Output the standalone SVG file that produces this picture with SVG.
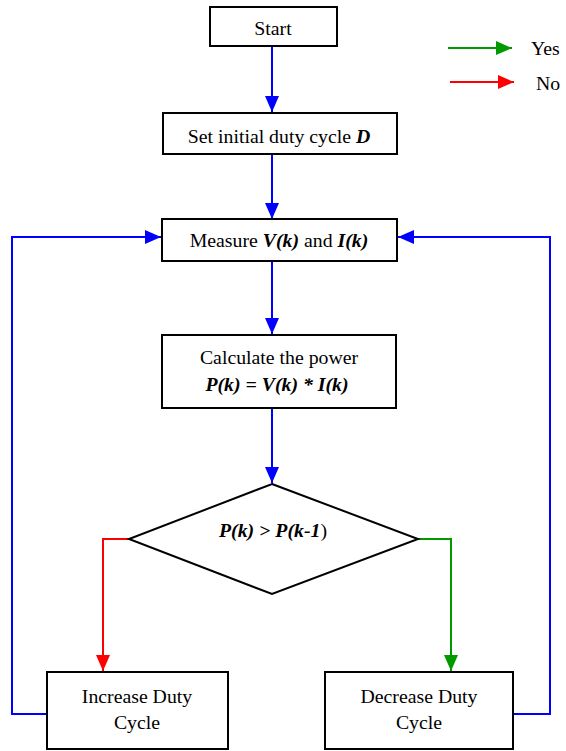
<svg xmlns="http://www.w3.org/2000/svg" width="566" height="751" viewBox="0 0 566 751">
<style>
.box{fill:#fff;stroke:#000;stroke-width:2}
.t{font-family:"Liberation Serif","Times New Roman",serif;font-size:19.8px;fill:#000;text-anchor:middle}
.bi{font-weight:bold;font-style:italic}
.c{fill:none;stroke-width:2}
.blue{stroke:#0000ff}
.red{stroke:#ff0000}
.green{stroke:#009900}
</style>
<defs>
<marker id="ab" markerUnits="userSpaceOnUse" markerWidth="16" markerHeight="14" refX="16" refY="7" orient="auto"><path d="M0,0 L16,7 L0,14 Z" fill="#0000ff"/></marker>
<marker id="ar" markerUnits="userSpaceOnUse" markerWidth="16" markerHeight="14" refX="16" refY="7" orient="auto"><path d="M0,0 L16,7 L0,14 Z" fill="#ff0000"/></marker>
<marker id="ag" markerUnits="userSpaceOnUse" markerWidth="16" markerHeight="14" refX="16" refY="7" orient="auto"><path d="M0,0 L16,7 L0,14 Z" fill="#009900"/></marker>
</defs>
<g id="connectors">
<path class="c blue" d="M272,47 V112" marker-end="url(#ab)"/>
<path class="c blue" d="M272,154 V219" marker-end="url(#ab)"/>
<path class="c blue" d="M272,261 V334" marker-end="url(#ab)"/>
<path class="c blue" d="M272,408 V483" marker-end="url(#ab)"/>
<path class="c red" d="M129,539 H103 V671" marker-end="url(#ar)"/>
<path class="c green" d="M418,539 H451 V671" marker-end="url(#ag)"/>
<path class="c blue" d="M47,714 H12 V237 H161" marker-end="url(#ab)"/>
<path class="c blue" d="M513,714 H550 V237 H398" marker-end="url(#ab)"/>
</g>
<g id="legend">
<path class="c green" d="M448,48 H512" marker-end="url(#ag)"/>
<text class="t" x="531" y="55" style="text-anchor:start">Yes</text>
<path class="c red" d="M450,82 H514" marker-end="url(#ar)"/>
<text class="t" x="536" y="90" style="text-anchor:start">No</text>
</g>
<g id="start">
<rect class="box" x="210" y="7" width="127" height="39"/>
<text class="t" x="273" y="35">Start</text>
</g>
<g id="init">
<rect class="box" x="163" y="113" width="234" height="41"/>
<text class="t" x="279" y="143">Set initial duty cycle <tspan class="bi">D</tspan></text>
</g>
<g id="measure">
<rect class="box" x="162" y="219" width="235" height="42"/>
<text class="t" x="279" y="247">Measure <tspan class="bi">V(k)</tspan> and <tspan class="bi">I(k)</tspan></text>
</g>
<g id="calc">
<rect class="box" x="162" y="335" width="234" height="73"/>
<text class="t" x="279" y="364">Calculate the power</text>
<text class="t bi" x="277" y="391">P(k) = V(k) * I(k)</text>
</g>
<g id="decision">
<polygon class="box" points="272,484 418,539 272,594 129,539"/>
<text class="t bi" x="273" y="537">P(k) &gt; P(k-1<tspan style="font-weight:normal;font-style:normal">)</tspan></text>
</g>
<g id="increase">
<rect class="box" x="47" y="672" width="181" height="77"/>
<text class="t" x="137" y="703">Increase Duty</text>
<text class="t" x="137" y="729">Cycle</text>
</g>
<g id="decrease">
<rect class="box" x="325" y="672" width="188" height="77"/>
<text class="t" x="419" y="703">Decrease Duty</text>
<text class="t" x="419" y="729">Cycle</text>
</g>
</svg>
